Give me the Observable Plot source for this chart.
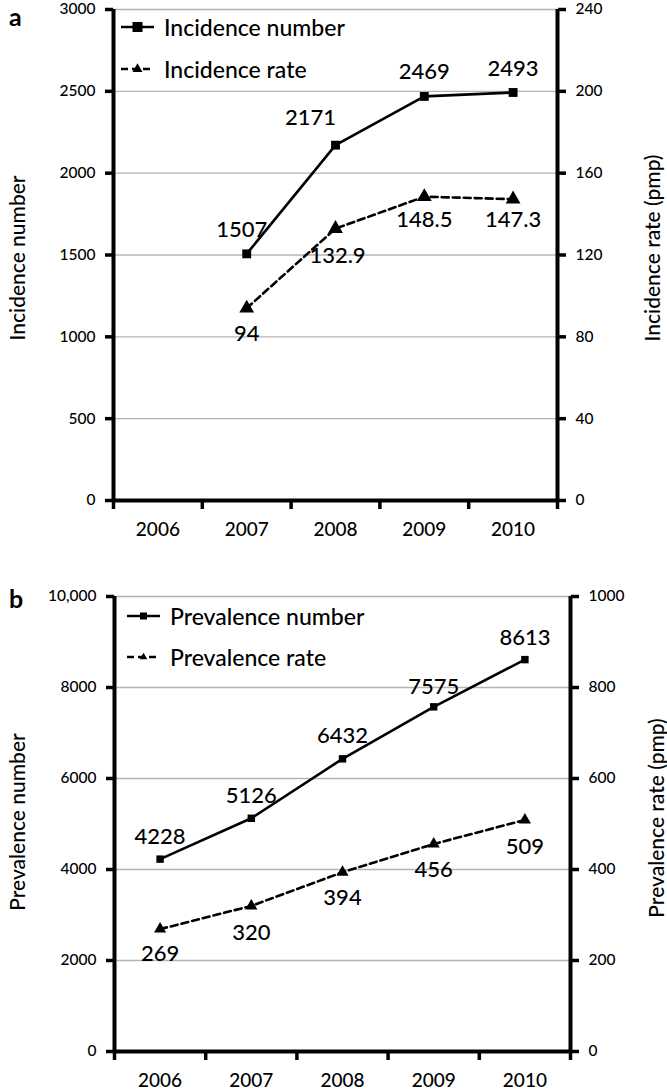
<!DOCTYPE html>
<html>
<head>
<meta charset="utf-8">
<script src="https://cdn.jsdelivr.net/npm/d3@7"></script>
<script src="https://cdn.jsdelivr.net/npm/@observablehq/plot@0.6"></script>
<style>
  html, body { margin: 0; padding: 0; background: #fff; }
  #wrap { position: relative; width: 667px; height: 1091px; overflow: hidden; font-family: Lato, "Open Sans", sans-serif; font-weight: 500; color: #000; }
  .abs { position: absolute; }
  .vt { position: absolute; white-space: nowrap; transform: translate(-50%, -50%) rotate(-90deg); font-size: 21px; }
  .letter { position: absolute; font-weight: bold; font-size: 25px; }
  .leg { position: absolute; display: flex; align-items: center; font-size: 23px; white-space: nowrap; }
  .leg svg { margin-right: 9px; }
</style>
</head>
<body>
<div id="wrap">
  <div id="pa" class="abs" style="left:0;top:0"></div>
  <div id="pb" class="abs" style="left:0;top:575px"></div>
</div>
<script>
// ---------- data ----------
const years = [2006, 2007, 2008, 2009, 2010];
const yearBounds = [2005.5, 2006.5, 2007.5, 2008.5, 2009.5, 2010.5];

const incYears = [2007, 2008, 2009, 2010];
const incNumber = [1507, 2171, 2469, 2493];
const incRate = [94, 132.9, 148.5, 147.3];

const prevYears = [2006, 2007, 2008, 2009, 2010];
const prevNumber = [4228, 5126, 6432, 7575, 8613];
const prevRate = [269, 320, 394, 456, 509];

const incLeftTicks = [0, 500, 1000, 1500, 2000, 2500, 3000];
const incRightTicks = [0, 40, 80, 120, 160, 200, 240];
const prevLeftTicks = [0, 2000, 4000, 6000, 8000, 10000];
const prevRightTicks = [0, 200, 400, 600, 800, 1000];

// label offsets (layout only)
const incNumDx = [-5, -25, 0, 0];
const incNumDy = [-24, -27, -24, -24];
const incRateDx = [0, 2, 0, 0];
const incRateDy = [26, 27, 23, 21];
const prevNumDy = [-22, -22, -23, -20, -22];
const prevRateDy = [25, 27, 26, 26, 27];

function fmtLeft(d) { return d >= 10000 ? d3.format(",")(d) : String(d); }

function panel(cfg) {
  const factor = cfg.leftMax / cfg.rightMax;
  const numData = cfg.xs.map((x, i) => ({x, v: cfg.num[i], i}));
  const rateData = cfg.xs.map((x, i) => ({x, v: cfg.rate[i] * factor, label: String(cfg.rate[i]), i}));
  return Plot.plot({
    width: 667,
    height: cfg.height,
    marginTop: cfg.mt,
    marginBottom: cfg.mb,
    marginLeft: cfg.ml,
    marginRight: cfg.mr,
    x: {type: "linear", domain: [2005.5, 2010.5]},
    y: {domain: [0, cfg.leftMax]},
    style: {fontFamily: "Lato, 'Open Sans', sans-serif", fontWeight: 500, fontSize: "15px", color: "#000", background: "transparent", overflow: "visible"},
    marks: [
      Plot.gridY(cfg.leftTicks.filter(d => d > 0), {stroke: "#b4b4b4", strokeOpacity: 1, strokeWidth: 1.3}),
      Plot.axisY(cfg.leftTicks, {anchor: "left", tickSize: 8, tickPadding: 10, strokeWidth: 3.5, fontSize: 15.5, label: null, tickFormat: fmtLeft}),
      Plot.axisY(cfg.leftTicks, {anchor: "right", tickSize: 8, tickPadding: 10, strokeWidth: 3.5, fontSize: 15.5, label: null,
        tickFormat: d => String(cfg.rightTicks[cfg.leftTicks.indexOf(d)])}),
      Plot.axisX(yearBounds, {anchor: "bottom", tickSize: 9, strokeWidth: 3.5, tickFormat: () => "", label: null}),
      Plot.axisX(years, {anchor: "bottom", tickSize: 0, tickPadding: 22, fontSize: 19, tickFormat: d => String(d), label: null}),
      Plot.ruleX([2005.5, 2010.5], {stroke: "#000", strokeWidth: 4}),
      Plot.ruleY([0], {stroke: "#000", strokeWidth: 4}),
      Plot.line(numData, {x: "x", y: "v", stroke: "#000", strokeWidth: 2.6}),
      Plot.dot(numData, {x: "x", y: "v", symbol: "square", r: cfg.sqR, fill: "#000", stroke: "none"}),
      Plot.line(rateData, {x: "x", y: "v", stroke: "#000", strokeWidth: 2.6, strokeDasharray: "7,4"}),
      Plot.dot(rateData, {x: "x", y: "v", symbol: "triangle", r: cfg.triR, fill: "#000", stroke: "none"})
    ].concat(
      numData.map(d => Plot.text([d], {x: "x", y: "v", text: d => String(d.v), fontSize: 22, fill: "#000",
        dx: cfg.numDx[d.i], dy: cfg.numDy[d.i]})),
      rateData.map(d => Plot.text([d], {x: "x", y: "v", text: "label", fontSize: 22, fill: "#000",
        dx: cfg.rateDx[d.i], dy: cfg.rateDy[d.i]}))
    )
  });
}

const pa = panel({
  height: 575, mt: 9, mb: 75, ml: 113, mr: 110,
  xs: incYears, num: incNumber, rate: incRate,
  leftMax: 3000, rightMax: 240, leftTicks: incLeftTicks, rightTicks: incRightTicks,
  sqR: 5, triR: 5.5,
  numDx: incNumDx, numDy: incNumDy, rateDx: incRateDx, rateDy: incRateDy
});
document.getElementById("pa").appendChild(pa);

const pb = panel({
  height: 516, mt: 21, mb: 40, ml: 114, mr: 97,
  xs: prevYears, num: prevNumber, rate: prevRate,
  leftMax: 10000, rightMax: 1000, leftTicks: prevLeftTicks, rightTicks: prevRightTicks,
  sqR: 4.2, triR: 4.5,
  numDx: prevYears.map(() => 0), numDy: prevNumDy, rateDx: prevYears.map(() => 0), rateDy: prevRateDy
});
document.getElementById("pb").appendChild(pb);

// ---------- overlays: titles, panel letters, legends ----------
const wrap = document.getElementById("wrap");
function addDiv(cls, style, html) {
  const d = document.createElement("div");
  d.className = cls;
  d.setAttribute("style", style);
  d.innerHTML = html;
  wrap.appendChild(d);
}
addDiv("letter", "left:9px;top:1px", "a");
addDiv("letter", "left:9px;top:583px", "b");
addDiv("vt", "left:16px;top:258px", "Incidence number");
addDiv("vt", "left:651px;top:248px", "Incidence rate (pmp)");
addDiv("vt", "left:16px;top:822px", "Prevalence number");
addDiv("vt", "left:655px;top:818px", "Prevalence rate (pmp)");

function sw(dashed, shape, size) {
  const line = dashed
    ? `<line x1="1" y1="10" x2="34" y2="10" stroke="#000" stroke-width="2.6" stroke-dasharray="7,4"/>`
    : `<line x1="1" y1="10" x2="34" y2="10" stroke="#000" stroke-width="2.6"/>`;
  const s = size;
  const mk = shape === "square"
    ? `<rect x="${17.5 - s}" y="${10 - s}" width="${2 * s}" height="${2 * s}" fill="#000"/>`
    : `<path d="M17.5 ${10 - s * 1.15} L${17.5 + s} ${10 + s * 0.6} L${17.5 - s} ${10 + s * 0.6} Z" fill="#000"/>`;
  return `<svg width="35" height="20">${line}${mk}</svg>`;
}
addDiv("leg", "left:120px;top:13px", sw(false, "square", 5) + "Incidence number");
addDiv("leg", "left:120px;top:55px", sw(true, "tri", 5) + "Incidence rate");
addDiv("leg", "left:126px;top:602px", sw(false, "square", 3.5) + "Prevalence number");
addDiv("leg", "left:126px;top:643px", sw(true, "tri", 3.8) + "Prevalence rate");
</script>
</body>
</html>
